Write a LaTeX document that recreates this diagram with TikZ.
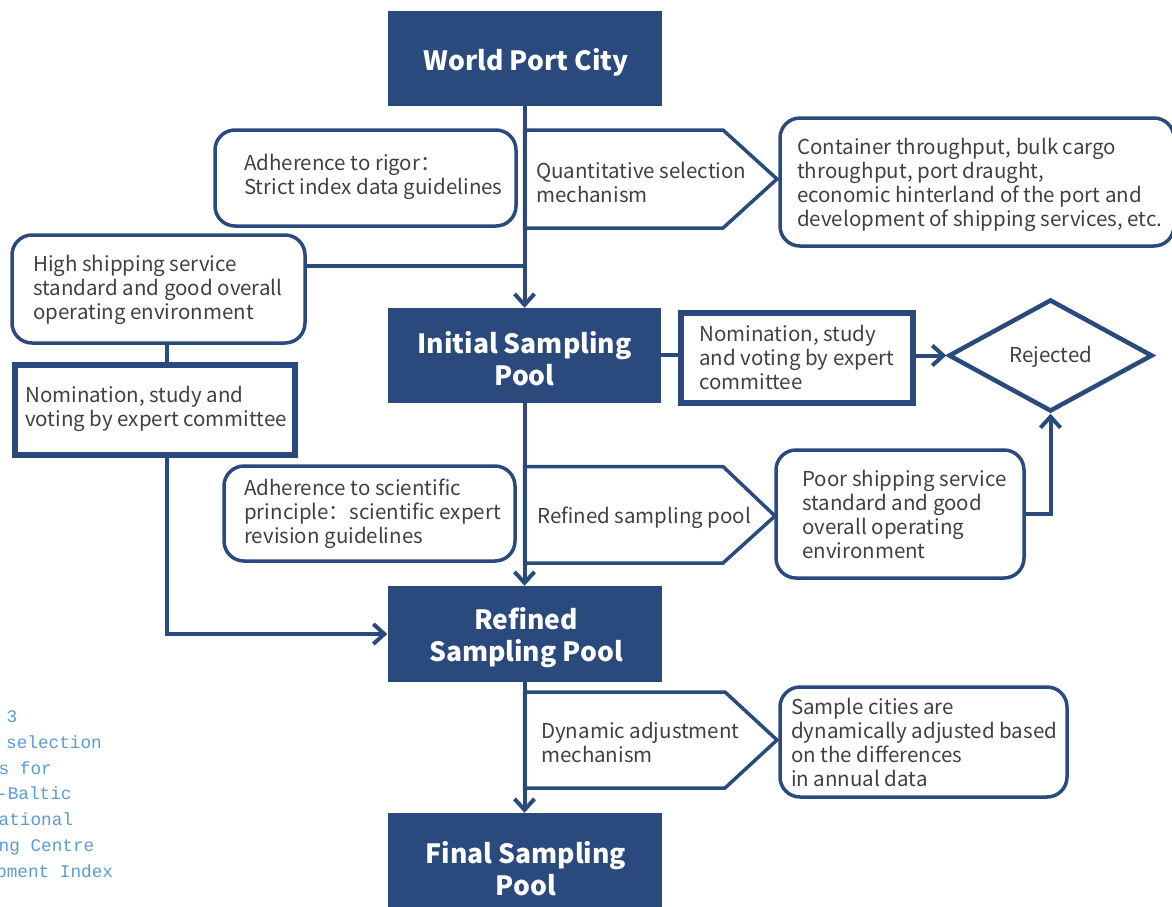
\documentclass[tikz,border=0pt]{standalone}
\usepackage{fontspec}
\setmainfont{Noto Sans CJK SC}
\newfontfamily\capfont{Liberation Mono}
\usetikzlibrary{arrows.meta,shapes.geometric,calc}
\definecolor{navy}{HTML}{2A4A7D}
\definecolor{txt}{HTML}{404040}
\definecolor{capblue}{HTML}{5B9BD5}
\tikzset{
  pool/.style={fill=navy, draw=none, inner sep=0pt},
  pooltext/.style={text=white, inner sep=0pt, align=center,
    font=\fontsize{26.5}{32}\selectfont\bfseries},
  rbox/.style={draw=navy, line width=3.5pt, rounded corners=20pt, inner sep=0pt},
  sbox/.style={draw=navy, line width=6pt, inner sep=0pt},
  penta/.style={draw=navy, line width=3.5pt, line join=miter},
  conn/.style={draw=navy, line width=4pt},
  barbtip/.tip={Straight Barb[length=11pt,width=20pt]},
  body/.style={text=txt, font=\fontsize{20.5}{24}\selectfont, align=left, inner sep=0pt, anchor=west},
  captext/.style={text=capblue, font=\capfont\fontsize{17.7}{20}\selectfont, inner sep=0pt, anchor=base west}
}
\begin{document}
\begin{tikzpicture}[x=1pt,y=-1pt]
\useasboundingbox (0,0) rectangle (1172,906);
\clip (0,0) rectangle (1172,906);

% pentagons (drawn first, main line runs over their left side)
\draw[penta] (524.5,130) -- (723,130) -- (777,179) -- (723,228) -- (524.5,228) -- cycle;
\draw[penta] (524.5,466.5) -- (723,466.5) -- (775,516) -- (723,563) -- (524.5,563) -- cycle;
\draw[penta] (524.5,692) -- (725,692) -- (777,740) -- (725,788) -- (524.5,788) -- cycle;

% pool boxes
\node[pool, minimum width=274pt, minimum height=95pt] (wpc) at (524.5,58.5) {};
\node[pool, minimum width=273pt, minimum height=95pt] (init) at (524.5,355.5) {};
\node[pool, minimum width=274pt, minimum height=96pt] (refd) at (524.5,634) {};
\node[pool, minimum width=274pt, minimum height=110pt] (final) at (524.5,868) {};
\node[pooltext] (t-wpc) at (526,62) {World Port City};
\node[pooltext] (t-init) at (524.5,359) {Initial Sampling\\Pool};
\node[pooltext] (t-refd) at (526,637.5) {Refined\\Sampling Pool};
\node[pooltext] (t-final) at (526,869) {Final Sampling\\Pool};

% rounded boxes
\node[rbox, minimum width=301pt, minimum height=96pt] (rigor) at (365.5,178) {};
\node[rbox, minimum width=394pt, minimum height=128pt] (cont) at (977,182) {};
\node[rbox, minimum width=293pt, minimum height=108pt] (high) at (158.5,289) {};
\node[rbox, minimum width=291pt, minimum height=95pt] (adhs) at (369.5,513.5) {};
\node[rbox, minimum width=248pt, minimum height=128pt] (poor) at (900,514) {};
\node[rbox, minimum width=287pt, minimum height=110pt] (samp) at (923.5,742) {};

% sharp boxes
\node[sbox, minimum width=232pt, minimum height=90pt] (nomr) at (797,358) {};
\node[sbox, minimum width=280pt, minimum height=90pt] (noml) at (155,410) {};

% diamond
\node[diamond, draw=navy, line width=4.5pt, inner sep=0pt, shape aspect=1.8,
      minimum width=204pt, minimum height=112pt] (rej) at (1050.5,355.5) {};
\node[body, anchor=center] (t-rej) at (1051,357) {Rejected};

% texts
\node[body] (t-rigor) at (244,176.5) {Adherence to rigor：\\Strict index data guidelines};
\node[body] (t-quant) at (536,182.5) {Quantitative selection\\mechanism};
\node[body] (t-cont) at (797,184.5) {Container throughput, bulk cargo\\throughput, port draught,\\economic hinterland of the port and\\development of shipping services, etc.};
\node[body] (t-high) at (33,289.5) {High shipping service\\standard and good overall\\operating environment};
\node[body] (t-nomr) at (699,357.5) {Nomination, study\\and voting by expert\\committee};
\node[body] (t-noml) at (25,408.5) {Nomination, study and\\voting by expert committee};
\node[body] (t-adhs) at (244,513.5) {Adherence to scientific\\principle：scientific expert\\revision guidelines};
\node[body] (t-refp) at (537,517.5) {Refined sampling pool};
\node[body] (t-poor) at (802,514.5) {Poor shipping service\\standard and good\\overall operating\\environment};
\node[body] (t-dyn) at (541,742.5) {Dynamic adjustment\\mechanism};
\node[body] (t-samp) at (791,742.5) {Sample cities are\\dynamically adjusted based\\on the differences\\in annual data};

% connectors
\draw[conn,-{barbtip}] (wpc.south) -- (init.north);
\draw[conn] (high.east |- 0,266) -- (wpc.south |- 0,266);
\draw[conn] (high.south -| 167,0) -- (noml.north -| 167,0);
\draw[conn,-{barbtip}] (noml.south -| 167,0) |- (refd.west);
\draw[conn] (init.east |- 0,355) -- (nomr.west |- 0,355);
\draw[conn,-{barbtip}] (rej.west -| nomr.east) -- (rej.west);
\draw[conn,-{barbtip}] (init.south) -- (refd.north);
\draw[conn,-{barbtip}] (poor.east) -| (rej.south);
\draw[conn,-{barbtip}] (refd.south) -- (final.north);

% caption (cut at the left edge, as in the reference)
\node[captext] (c1) at (6.5,722) {3};
\node[captext] (c2) at (6,748) {selection};
\node[captext] (c3) at (-1.5,774) {s for};
\node[captext] (c4) at (-3,799.5) {-Baltic};
\node[captext] (c5) at (-1.5,825) {ational};
\node[captext] (c6) at (-1.5,851) {ng Centre};
\node[captext] (c7) at (-4,877) {pment Index};
\end{tikzpicture}
\end{document}
